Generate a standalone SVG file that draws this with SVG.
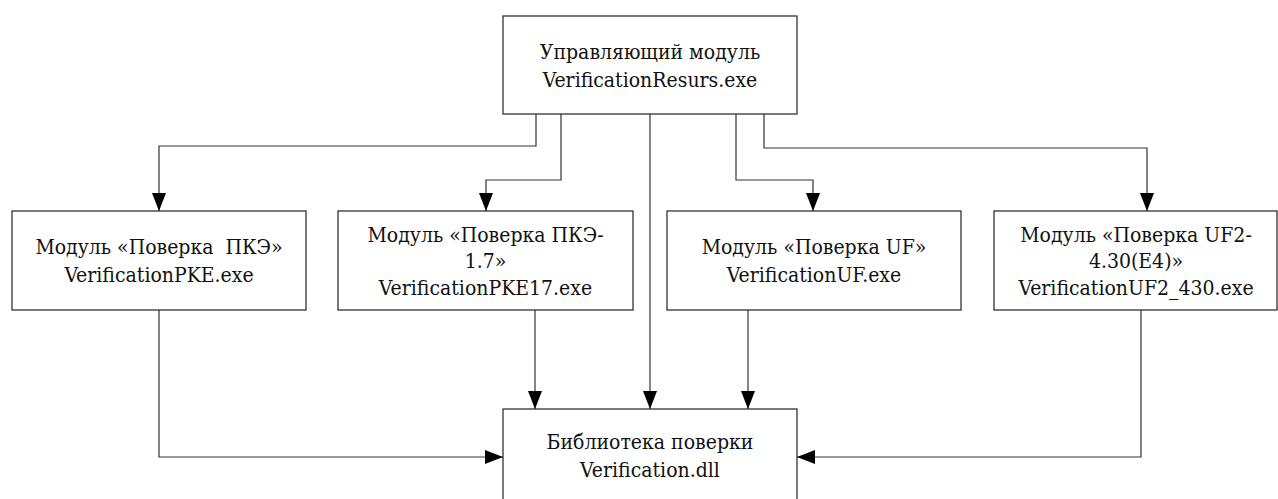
<svg xmlns="http://www.w3.org/2000/svg" width="1278" height="499" viewBox="0 0 1278 499">
<style>
.box{fill:#fff;stroke:#222;stroke-width:1.2}
.t{font-family:'DejaVu Serif Condensed','DejaVu Serif',serif;font-stretch:condensed;font-size:21px;fill:#111;text-anchor:middle}
.c{fill:none;stroke:#333;stroke-width:1.2}
</style>
<defs>
<marker id="ah" viewBox="0 0 18 14" refX="18" refY="7" markerWidth="18" markerHeight="14" markerUnits="userSpaceOnUse" orient="auto">
<path d="M0,0 L18,7 L0,14 Z" fill="#000"/>
</marker>
</defs>
<rect width="1278" height="499" fill="#fff"/>
<g id="connectors">
<path class="c" d="M536,114 V146 H159 V211" marker-end="url(#ah)"/>
<path class="c" d="M561,114 V180 H486 V211" marker-end="url(#ah)"/>
<path class="c" d="M650,114 V409" marker-end="url(#ah)"/>
<path class="c" d="M736,114 V180 H813 V211" marker-end="url(#ah)"/>
<path class="c" d="M764,114 V148 H1147 V211" marker-end="url(#ah)"/>
<path class="c" d="M159,310 V457 H503" marker-end="url(#ah)"/>
<path class="c" d="M535,310 V409" marker-end="url(#ah)"/>
<path class="c" d="M748,310 V409" marker-end="url(#ah)"/>
<path class="c" d="M1141,310 V457 H797" marker-end="url(#ah)"/>
</g>
<g id="main">
<rect class="box" x="503" y="16" width="294" height="98"/>
<text class="t" x="650" y="59">Управляющий модуль</text>
<text class="t" x="650" y="87">VerificationResurs.exe</text>
</g>
<g id="pke">
<rect class="box" x="12" y="211" width="294" height="99"/>
<text class="t" x="159" y="254" xml:space="preserve">Модуль «Поверка  ПКЭ»</text>
<text class="t" x="159" y="282">VerificationPKE.exe</text>
</g>
<g id="pke17">
<rect class="box" x="338" y="211" width="295" height="99"/>
<text class="t" x="485.5" y="242">Модуль «Поверка ПКЭ-</text>
<text class="t" x="485.5" y="268">1.7»</text>
<text class="t" x="485.5" y="295">VerificationPKE17.exe</text>
</g>
<g id="uf">
<rect class="box" x="667" y="211" width="294" height="99"/>
<text class="t" x="814" y="254">Модуль «Поверка UF»</text>
<text class="t" x="814" y="282">VerificationUF.exe</text>
</g>
<g id="uf2">
<rect class="box" x="994" y="211" width="283" height="99"/>
<text class="t" x="1136" y="242">Модуль «Поверка UF2-</text>
<text class="t" x="1136" y="268">4.30(E4)»</text>
<text class="t" x="1136" y="295">VerificationUF2_430.exe</text>
</g>
<g id="lib">
<rect class="box" x="503" y="409" width="294" height="100"/>
<text class="t" x="650" y="449">Библиотека поверки</text>
<text class="t" x="650" y="477">Verification.dll</text>
</g>
</svg>
